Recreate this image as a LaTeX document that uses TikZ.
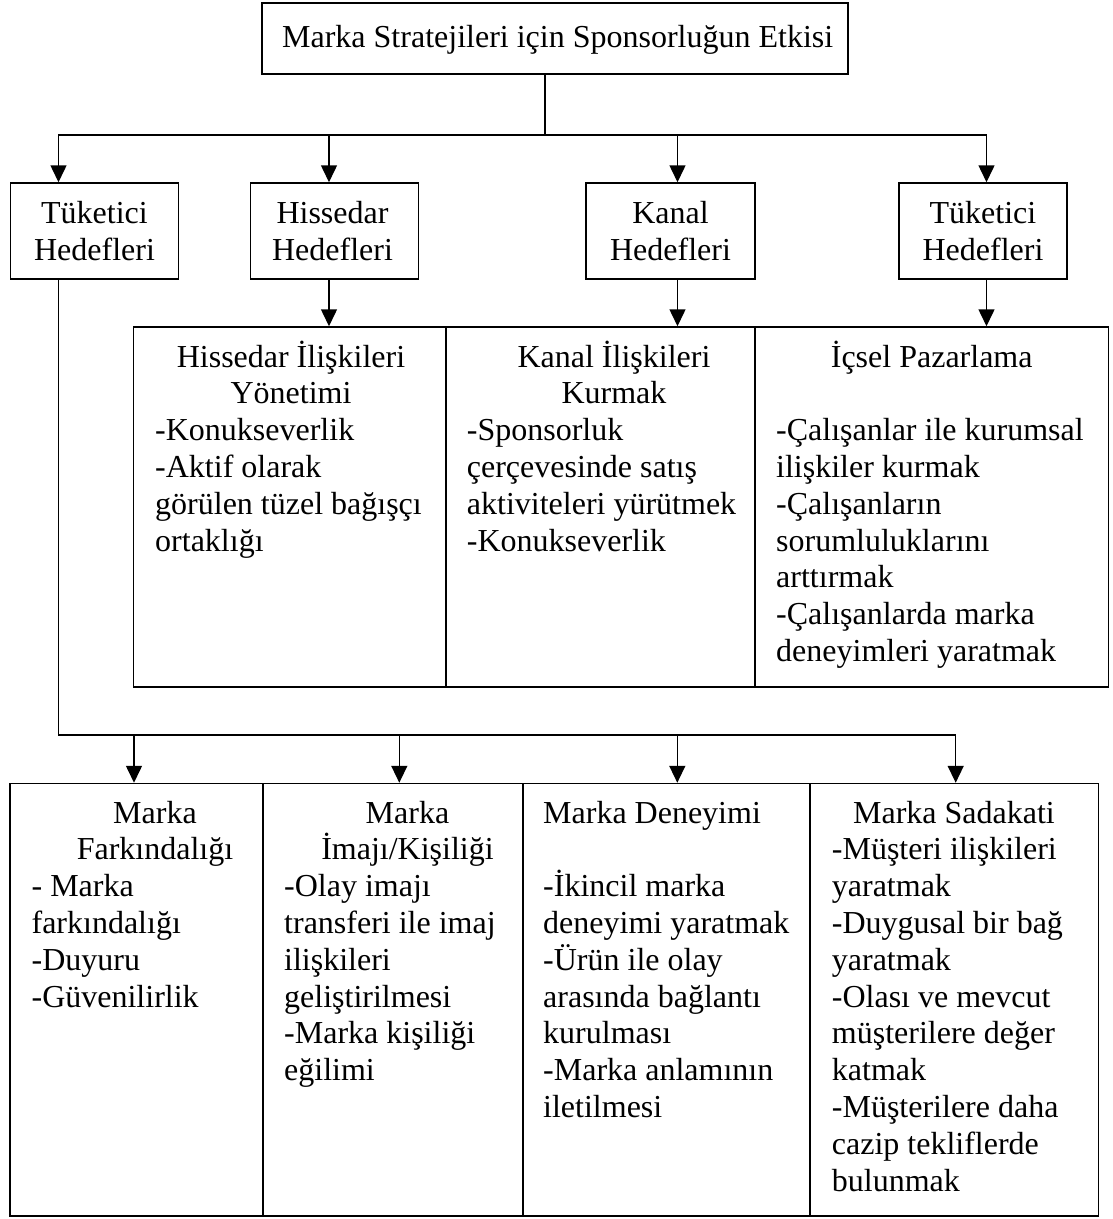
\documentclass[tikz,border=0pt]{standalone}
\usepackage{fontspec}
\setmainfont{Liberation Serif}
\usetikzlibrary{arrows.meta}

% body font and line spacing of all cells
\newcommand{\cellfont}{\fontsize{32}{36.8}\selectfont}
% stacked lines, left aligned; the box's baseline is that of its first line
\newcommand{\leftlines}[1]{\vtop{\hsize=360pt\parindent=0pt\parskip=0pt\leftskip=0pt\rightskip=0pt plus 1fil\parfillskip=0pt plus 1fil\relax #1\par}}
% stacked lines, centred
\newcommand{\midlines}[1]{\vtop{\hsize=360pt\parindent=0pt\parskip=0pt\leftskip=0pt plus 1fil\rightskip=0pt plus 1fil\parfillskip=0pt\relax #1\par}}

\begin{document}
\begin{tikzpicture}[x=1pt,y=-1pt,
  box/.style={draw, line width=1.5pt, inner sep=0pt, rectangle},
  txt/.style={inner sep=0pt, font=\cellfont},
  link/.style={line width=1.5pt},
  arr/.style={link, -{Triangle[width=16pt,length=17pt]}}]

\useasboundingbox[fill=white] (0,0) rectangle (1112,1219);

% ---------- boxes ----------
\node[box, minimum width=586pt, minimum height=71pt] (top) at (555,38.5) {};

\node[box, minimum width=167.6pt, minimum height=96pt] (b1) at (94.5,231) {};
\node[box, minimum width=167.6pt, minimum height=96pt] (b2) at (334.5,231) {};
\node[box, minimum width=169pt,   minimum height=96pt] (b3) at (670.5,231) {};
\node[box, minimum width=168pt,   minimum height=96pt] (b4) at (983,231) {};

\node[box, minimum width=312.5pt, minimum height=360pt] (r1) at (289.75,507) {};
\node[box, minimum width=309pt,   minimum height=360pt] (r2) at (600.5,507) {};
\node[box, minimum width=353.5pt, minimum height=360pt] (r3) at (931.75,507) {};

\node[box, minimum width=253pt,   minimum height=432.5pt] (c1) at (136.5,999.75) {};
\node[box, minimum width=260pt,   minimum height=432.5pt] (c2) at (393,999.75) {};
\node[box, minimum width=287pt,   minimum height=432.5pt] (c3) at (666.5,999.75) {};
\node[box, minimum width=288.5pt, minimum height=432.5pt] (c4) at (954.25,999.75) {};

% ---------- texts ----------
\node[txt, anchor=base] (ttop) at (557.7,47) {Marka Stratejileri için Sponsorluğun Etkisi};

\node[txt, anchor=base] (tb1) at (94.5,223.3) {\midlines{Tüketici\par Hedefleri}};
\node[txt, anchor=base] (tb2) at (332.5,223.3) {\midlines{Hissedar\par Hedefleri}};
\node[txt, anchor=base] (tb3) at (670.5,223.3) {\midlines{Kanal\par Hedefleri}};
\node[txt, anchor=base] (tb4) at (983,223.3) {\midlines{Tüketici\par Hedefleri}};

\node[txt, anchor=base] (hr1) at (291,367) {\midlines{Hissedar İlişkileri\par Yönetimi}};
\node[txt, anchor=base west] (br1) at (155,440.6) {\leftlines{-Konukseverlik\par -Aktif olarak\par görülen tüzel bağışçı\par ortaklığı}};

\node[txt, anchor=base] (hr2) at (614,367) {\midlines{Kanal İlişkileri\par Kurmak}};
\node[txt, anchor=base west] (br2) at (466.7,440.6) {\leftlines{-Sponsorluk\par çerçevesinde satış\par aktiviteleri yürütmek\par -Konukseverlik}};

\node[txt, anchor=base] (hr3) at (931.7,367) {İçsel Pazarlama};
\node[txt, anchor=base west] (br3) at (776,440.6) {\leftlines{-Çalışanlar ile kurumsal\par ilişkiler kurmak\par -Çalışanların\par sorumluluklarını\par arttırmak\par -Çalışanlarda marka\par deneyimleri yaratmak}};

\node[txt, anchor=base] (hc1) at (155,823) {\midlines{Marka\par Farkındalığı}};
\node[txt, anchor=base west] (bc1) at (31.4,896.6) {\leftlines{- Marka\par farkındalığı\par -Duyuru\par -Güvenilirlik}};

\node[txt, anchor=base] (hc2) at (407.5,823) {\midlines{Marka\par İmajı/Kişiliği}};
\node[txt, anchor=base west] (bc2) at (284,896.6) {\leftlines{-Olay imajı\par transferi ile imaj\par ilişkileri\par geliştirilmesi\par -Marka kişiliği\par eğilimi}};

\node[txt, anchor=base west] (bc3) at (543,823) {\leftlines{Marka Deneyimi\par \mbox{}\par -İkincil marka\par deneyimi yaratmak\par -Ürün ile olay\par arasında bağlantı\par kurulması\par -Marka anlamının\par iletilmesi}};

\node[txt, anchor=base] (hc4) at (954,823) {Marka Sadakati};
\node[txt, anchor=base west] (bc4) at (831.7,859.8) {\leftlines{-Müşteri ilişkileri\par yaratmak\par -Duygusal bir bağ\par yaratmak\par -Olası ve mevcut\par müşterilere değer\par katmak\par -Müşterilere daha\par cazip tekliflerde\par bulunmak}};

% ---------- connectors ----------
\coordinate (j0) at (545,135);
\coordinate (d1) at (58.5,135);
\coordinate (d2) at (329,135);
\coordinate (d3) at (677.5,135);
\coordinate (d4) at (986.5,135);

\draw[link] (top.south -| j0) -- (j0);
\draw[arr] (j0) -| (b1.north -| d1);
\draw[arr] (j0) -| (b4.north -| d4);
\draw[arr] (d2) -- (b2.north -| d2);
\draw[arr] (d3) -- (b3.north -| d3);

\draw[arr] (b2.south -| d2) -- (r1.north -| d2);
\draw[arr] (b3.south -| d3) -- (r2.north -| d3);
\draw[arr] (b4.south -| d4) -- (r3.north -| d4);

\coordinate (k1) at (134,735);
\coordinate (k2) at (399.3,735);
\coordinate (k3) at (677.3,735);
\coordinate (k4) at (955.7,735);

\draw[arr] (b1.south -| d1) |- (k4) -- (c4.north -| k4);
\draw[arr] (k1) -- (c1.north -| k1);
\draw[arr] (k2) -- (c2.north -| k2);
\draw[arr] (k3) -- (c3.north -| k3);

\end{tikzpicture}
\end{document}
